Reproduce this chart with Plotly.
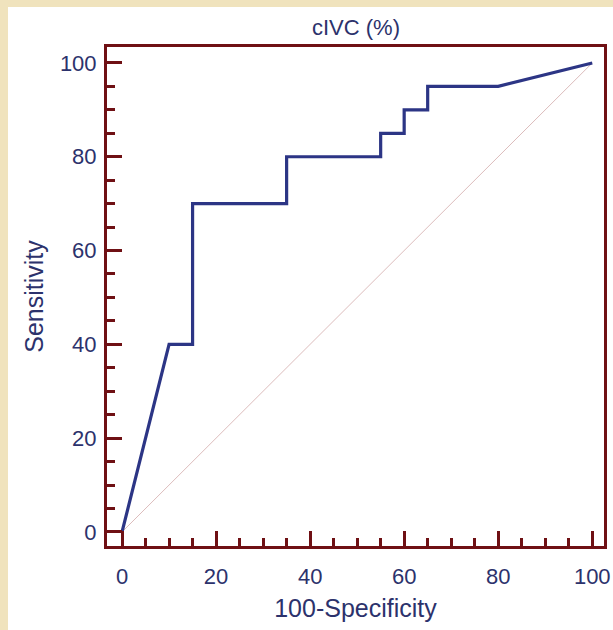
import plotly.graph_objects as go

# ROC curve for cIVC (%)
fpr = [0, 10, 15, 15, 35, 35, 55, 55, 60, 60, 65, 65, 80, 100]   # 100-Specificity
tpr = [0, 40, 40, 70, 70, 80, 80, 85, 85, 90, 90, 95, 95, 100]   # Sensitivity
ref_x = [0, 100]
ref_y = [0, 100]
tick_vals = [0, 20, 40, 60, 80, 100]

NAVY = "#2c3585"
TEXT = "#2c326c"
FRAME = "#6f1014"
BEIGE = "#f0e3bd"
FONT = "Liberation Sans, Arial"

W, H = 613, 630
ML, MR, MT, MB = 107, 9, 47, 84
pw, ph = W - ML - MR, H - MT - MB

fig = go.Figure()
fig.add_trace(go.Scatter(x=ref_x, y=ref_y, mode="lines",
                         line=dict(color="#dcbcbc", width=1), hoverinfo="skip"))
fig.add_trace(go.Scatter(x=fpr, y=tpr, mode="lines",
                         line=dict(color=NAVY, width=3.2)))

# white card over the beige page
fig.add_shape(type="rect", xref="paper", yref="paper", layer="below",
              x0=(8 - ML) / pw, x1=(W + 20 - ML) / pw,
              y0=-(MB + 20) / ph, y1=(ph + MT - 7) / ph,
              fillcolor="white", line=dict(width=0))

axis_common = dict(
    automargin=False,
    showgrid=False, zeroline=False,
    showline=True, linecolor=FRAME, linewidth=3, mirror=True,
    ticks="inside", ticklen=15, tickwidth=3, tickcolor=FRAME,
    tickmode="array", tickvals=tick_vals,
    minor=dict(ticks="inside", ticklen=8, tickwidth=3, tickcolor=FRAME, dtick=5, tick0=0),
    tickfont=dict(family=FONT, size=22, color=TEXT),
)

fig.update_layout(
    width=W, height=H,
    margin=dict(l=ML, r=MR, t=MT, b=MB),
    paper_bgcolor=BEIGE, plot_bgcolor="white",
    showlegend=False,
    title=dict(text="cIVC (%)", x=356 / W, xanchor="center", y=1 - 27 / H, yanchor="middle",
               font=dict(family=FONT, size=22, color=TEXT)),
    xaxis=dict(axis_common, range=[-3.2, 102.5], ticklabelstandoff=9,
               title=dict(text="100-Specificity", standoff=12,
                          font=dict(family=FONT, size=25, color=TEXT))),
    yaxis=dict(axis_common, range=[-3.0, 103.4], ticklabelstandoff=3,
               title=dict(text="Sensitivity", standoff=10,
                          font=dict(family=FONT, size=25, color=TEXT))),
)

fig.write_html("out.html")
